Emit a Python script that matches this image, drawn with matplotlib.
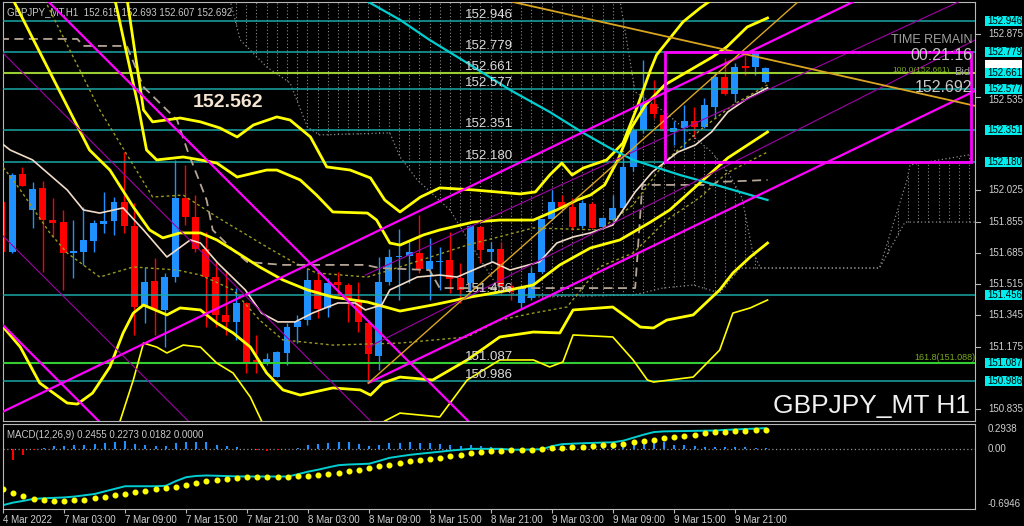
import numpy as np
import matplotlib.pyplot as plt
from matplotlib.patches import Rectangle
from matplotlib.transforms import blended_transform_factory

plt.rcParams['font.family'] = ['Liberation Sans', 'DejaVu Sans']

# ---- GBPJPY H1 candles, bar 0 = 4 Mar 21:00 ... bar 75 = 10 Mar 00:00
opens = [151.963, 151.691, 152.114, 151.918, 152.036, 151.863, 151.851, 151.685, 151.688, 151.751,
         151.842, 151.860, 151.960, 151.831, 151.392, 151.532, 151.374, 151.555, 151.985, 151.878,
         151.706, 151.555, 151.347, 151.310, 151.410, 151.102, 151.092, 151.011, 151.138, 151.283,
         151.319, 151.537, 151.386, 151.528, 151.510, 151.428, 151.305, 151.125, 151.528, 151.660,
         151.669, 151.682, 151.595, 151.633, 151.646, 151.546, 151.519, 151.824, 151.688, 151.704,
         151.504, 151.410, 151.437, 151.582, 151.867, 151.963, 151.936, 151.831, 151.949, 151.827,
         151.863, 151.930, 152.153, 152.353, 152.493, 152.435, 152.341, 152.362, 152.402, 152.371,
         152.480, 152.643, 152.547, 152.703, 152.697, 152.615]
highs = [152.010, 152.119, 152.150, 152.069, 152.077, 151.983, 151.918, 151.863, 151.936, 151.863,
         152.017, 151.990, 152.235, 151.956, 151.609, 151.655, 151.573, 152.190, 152.163, 151.999,
         151.800, 151.637, 151.582, 151.492, 151.419, 151.238, 151.138, 151.150, 151.301, 151.347,
         151.601, 151.582, 151.549, 151.582, 151.519, 151.528, 151.310, 151.660, 151.704, 151.813,
         151.749, 151.891, 151.764, 151.718, 151.800, 151.628, 151.835, 151.831, 151.745, 151.745,
         151.521, 151.510, 151.609, 151.869, 152.027, 151.999, 151.981, 151.972, 151.963, 151.881,
         151.999, 152.199, 152.360, 152.734, 152.625, 152.462, 152.402, 152.489, 152.480, 152.526,
         152.662, 152.743, 152.716, 152.761, 152.779, 152.693]
lows = [151.673, 151.684, 152.048, 151.818, 151.582, 151.772, 151.483, 151.546, 151.619, 151.691,
        151.791, 151.782, 151.791, 151.238, 151.301, 151.238, 151.174, 151.528, 151.836, 151.691,
        151.283, 151.283, 151.238, 151.211, 151.029, 151.029, 151.074, 151.009, 151.074, 151.193,
        151.292, 151.329, 151.337, 151.455, 151.310, 151.256, 150.987, 151.047, 151.510, 151.428,
        151.519, 151.573, 151.428, 151.483, 151.465, 151.410, 151.473, 151.628, 151.637, 151.455,
        151.428, 151.383, 151.428, 151.575, 151.863, 151.934, 151.809, 151.820, 151.818, 151.818,
        151.854, 151.927, 152.130, 152.337, 152.418, 152.337, 152.271, 152.253, 152.317, 152.362,
        152.417, 152.543, 152.507, 152.652, 152.652, 152.607]
closes = [151.691, 152.108, 152.050, 152.032, 151.863, 151.849, 151.682, 151.695, 151.755, 151.849,
          151.860, 151.963, 151.831, 151.388, 151.528, 151.378, 151.555, 151.985, 151.878, 151.706,
          151.552, 151.347, 151.310, 151.410, 151.092, 151.089, 151.107, 151.147, 151.283, 151.314,
          151.537, 151.379, 151.519, 151.510, 151.428, 151.310, 151.134, 151.528, 151.664, 151.669,
          151.691, 151.595, 151.642, 151.642, 151.541, 151.483, 151.831, 151.700, 151.704, 151.504,
          151.472, 151.492, 151.573, 151.867, 151.963, 151.936, 151.824, 151.954, 151.822, 151.873,
          151.927, 152.153, 152.353, 152.493, 152.440, 152.348, 152.362, 152.402, 152.371, 152.489,
          152.643, 152.547, 152.697, 152.692, 152.770, 152.692]

# ---- MACD(12,26,9) panel
macd_main = [-0.650, -0.620, -0.600, -0.577, -0.570, -0.565, -0.560, -0.550, -0.535, -0.520,
             -0.490, -0.460, -0.430, -0.430, -0.430, -0.430, -0.425, -0.370, -0.325, -0.310,
             -0.305, -0.308, -0.312, -0.315, -0.317, -0.317, -0.317, -0.317, -0.317, -0.290,
             -0.260, -0.237, -0.210, -0.185, -0.177, -0.173, -0.168, -0.135, -0.100, -0.082,
             -0.065, -0.052, -0.040, -0.028, -0.015, -0.005, 0.005, 0.005, 0.005, 0.005,
             -0.005, -0.005, -0.002, 0.000, 0.037, 0.060, 0.065, 0.070, 0.074, 0.078,
             0.081, 0.100, 0.135, 0.170, 0.200, 0.208, 0.210, 0.212, 0.214, 0.216,
             0.218, 0.225, 0.230, 0.236, 0.240, 0.2455]
macd_signal = [-0.457, -0.508, -0.543, -0.574, -0.593, -0.605, -0.600, -0.593, -0.585, -0.562,
               -0.550, -0.527, -0.515, -0.500, -0.480, -0.460, -0.449, -0.434, -0.410, -0.395,
               -0.372, -0.356, -0.345, -0.337, -0.325, -0.317, -0.317, -0.317, -0.317, -0.314,
               -0.306, -0.298, -0.287, -0.275, -0.256, -0.240, -0.220, -0.200, -0.178, -0.158,
               -0.140, -0.124, -0.108, -0.097, -0.081, -0.062, -0.047, -0.027, -0.023, -0.019,
               -0.012, -0.007, -0.007, 0.000, 0.012, 0.020, 0.023, 0.031, 0.040, 0.047,
               0.055, 0.066, 0.081, 0.100, 0.113, 0.128, 0.140, 0.151, 0.167, 0.190,
               0.198, 0.206, 0.210, 0.217, 0.226, 0.2273]
macd_hist = [-0.19, -0.13, -0.07, -0.01, 0.02, 0.035, 0.04, 0.045, 0.055, 0.065,
             0.078, 0.09, 0.10, 0.065, 0.055, 0.04, 0.04, 0.078, 0.085, 0.09,
             0.085, 0.055, 0.04, 0.025, 0.005, -0.01, -0.015, -0.01, 0.003, 0.02,
             0.055, 0.065, 0.075, 0.09, 0.09, 0.065, 0.04, 0.055, 0.075, 0.075,
             0.08, 0.075, 0.075, 0.065, 0.055, 0.04, 0.045, 0.04, 0.025, 0.01,
             0.005, 0.002, 0.002, 0.015, 0.03, 0.035, 0.035, 0.035, 0.025, 0.035,
             0.04, 0.05, 0.075, 0.10, 0.10, 0.08, 0.055, 0.05, 0.035, 0.03,
             0.03, 0.025, 0.025, 0.025, 0.02, 0.0182]

# ---- indicator curves: (bar, price)
bb_outer_x = [12.3, 13.9, 14.8, 17.5, 19.5, 21.4, 23.1, 24.7, 27.0, 28.3, 30.3, 31.9, 34.2, 36.2, 37.6,
              39.1, 41.1, 43.0, 46.3, 50.9, 52.4, 53.8, 55.0, 56.0, 57.1, 59.4, 61.0, 62.4, 63.7,
              64.3, 66.9, 68.6, 69.7]
bb_outer_p = [153.060, 152.462, 152.397, 152.418, 152.397, 152.364, 152.315, 152.380, 152.424, 152.407,
              152.315, 152.152, 152.135, 152.092, 151.972, 151.907, 151.988, 152.038, 152.027, 152.005,
              152.016, 152.108, 152.173, 152.108, 152.146, 152.190, 152.282, 152.478, 152.679, 152.761,
              152.941, 153.017, 153.060]
bb_upper_x = [11.1, 13.4, 14.2, 15.2, 17.8, 19.5, 21.1, 23.1, 26.0, 27.0, 29.3, 30.9, 32.5, 35.9, 36.8,
              38.1, 39.1, 41.4, 43.0, 46.3, 48.9, 52.2, 54.5, 56.5, 57.8, 59.2, 60.5, 61.7, 63.2, 65.1,
              67.6, 69.8, 71.2, 73.2, 75.2]
bb_upper_p = [153.060, 152.478, 152.244, 152.190, 152.206, 152.190, 152.173, 152.097, 152.135, 152.135,
              152.081, 151.999, 151.907, 151.901, 151.863, 151.738, 151.727, 151.782, 151.809, 151.852,
              151.863, 151.863, 151.918, 151.972, 151.999, 152.054, 152.190, 152.353, 152.489, 152.598,
              152.679, 152.750, 152.805, 152.913, 152.962]
bb_mid_x = [1.1, 8.6, 10.6, 12.9, 14.5, 15.8, 17.5, 19.5, 21.1, 22.7, 25.3, 27.6, 30.0, 32.5, 35.9,
            39.1, 42.3, 46.0, 48.9, 52.2, 54.8, 57.8, 60.7, 63.7, 65.6, 69.1, 71.3, 75.2]
bb_mid_p = [153.060, 152.244, 152.135, 151.934, 151.809, 151.766, 151.793, 151.793, 151.755, 151.700,
            151.608, 151.537, 151.483, 151.444, 151.417, 151.368, 151.401, 151.444, 151.472, 151.510,
            151.619, 151.711, 151.755, 151.852, 151.918, 152.092, 152.201, 152.342]
bb_lower_x = [-0.2, 1.8, 3.7, 6.4, 7.4, 8.9, 10.6, 11.9, 12.9, 13.9, 16.2, 17.5, 19.5, 21.1, 22.7,
              24.4, 26.0, 27.6, 29.3, 32.5, 35.2, 36.2, 37.4, 39.1, 42.3, 45.7, 48.9, 52.2, 54.8,
              56.1, 60.0, 62.7, 64.0, 65.3, 67.9, 70.5, 71.8, 73.5, 75.2]
bb_lower_p = [151.303, 151.172, 150.977, 150.868, 150.862, 150.922, 151.064, 151.249, 151.357, 151.401,
              151.347, 151.385, 151.374, 151.303, 151.249, 151.172, 151.031, 150.939, 150.911, 150.950,
              150.939, 150.911, 150.977, 151.009, 150.993, 151.102, 151.227, 151.254, 151.249, 151.374,
              151.390, 151.281, 151.276, 151.319, 151.347, 151.483, 151.575, 151.662, 151.738]
bb_low3a_x = [11.6, 12.9, 13.9, 15.2, 16.2, 17.8, 19.5, 21.1, 22.7, 24.4, 25.5]
bb_low3a_p = [150.770, 150.993, 151.194, 151.172, 151.140, 151.183, 151.172, 151.085, 151.031, 150.900, 150.770]
bb_low3b_x = [37.6, 39.1, 43.0, 45.7, 48.9, 52.2, 53.8, 55.1, 56.1, 60.0, 62.0, 63.4, 64.0, 67.9,
              70.5, 71.8, 73.5, 75.2]
bb_low3b_p = [150.770, 150.813, 150.792, 150.993, 151.102, 151.102, 151.064, 151.091, 151.238, 151.227,
              151.102, 150.993, 150.982, 151.009, 151.156, 151.357, 151.385, 151.428]

ma_x = [-0.2, 0.8, 3.0, 6.4, 8.0, 9.6, 11.9, 13.9, 16.2, 18.5, 19.5, 21.2, 23.9, 25.5, 27.1, 28.8,
        30.5, 33.0, 34.7, 35.7, 37.3, 38.1, 40.8, 43.0, 44.7, 47.0, 48.2, 49.9, 52.8, 54.5, 56.1,
        57.8, 60.0, 62.2, 63.9, 66.4, 68.1, 69.7, 71.3, 73.3, 75.2]
ma_p = [152.288, 152.244, 152.190, 152.027, 151.918, 151.901, 151.929, 151.809, 151.662, 151.755,
        151.738, 151.629, 151.483, 151.357, 151.309, 151.309, 151.357, 151.412, 151.412, 151.374,
        151.401, 151.483, 151.553, 151.564, 151.553, 151.608, 151.635, 151.591, 151.635, 151.738,
        151.771, 151.793, 151.836, 152.016, 152.125, 152.233, 152.271, 152.342, 152.451, 152.527, 152.582]

slow_ma_x = [36.0, 39.1, 42.0, 46.0, 49.9, 53.8, 57.1, 59.7, 62.0, 66.6, 70.5, 75.2]
slow_ma_p = [153.049, 152.952, 152.843, 152.707, 152.571, 152.451, 152.337, 152.255, 152.190, 152.108,
             152.048, 151.972]

kijun_x = [-0.2, 7.4, 8.0, 11.6, 12.3, 13.9, 17.2, 18.2, 20.1, 20.7, 22.7, 24.1, 27.6, 35.7, 37.1,
           42.0, 43.0, 62.2, 62.9, 69.7, 70.3, 75.2]
kijun_p = [152.848, 152.848, 152.810, 152.810, 152.805, 152.587, 152.407, 152.244, 151.972, 151.809,
           151.700, 151.635, 151.619, 151.619, 151.602, 151.591, 151.493, 151.493, 152.054, 152.054,
           152.070, 152.081]

env_lo_x = [-0.2, 1.8, 4.7, 6.4, 9.6, 12.9, 17.2, 19.5, 22.7, 25.3, 27.6, 32.5, 39.1, 45.7, 48.9,
            52.2, 55.5, 58.7, 62.0, 65.3, 68.6, 71.2, 75.2]
env_lo_p = [152.173, 152.027, 151.793, 151.684, 151.553, 151.608, 151.591, 151.564, 151.483, 151.319,
            151.211, 151.183, 151.194, 151.227, 151.319, 151.357, 151.390, 151.608, 151.684, 151.863,
            151.988, 152.119, 152.233]
env_hi_x = [4.2, 9.6, 14.8, 17.8, 21.1, 26.0, 28.6, 30.9, 35.9, 39.1, 45.7, 52.2, 58.7, 62.0, 65.3,
            68.6, 71.8, 75.2]
env_hi_p = [153.060, 152.462, 151.988, 151.999, 151.880, 151.717, 151.635, 151.575, 151.553, 151.608,
            151.727, 151.820, 151.809, 151.945, 152.190, 152.353, 152.489, 152.598]

cloud_top_x = [22.4, 60.7, 62.2, 65.1, 69.7, 71.3, 72.7, 73.7, 74.5, 86.2, 88.9, 89.2, 96.1]
cloud_top_p = [153.060, 153.060, 152.560, 152.451, 152.233, 152.125, 151.983, 151.700, 151.602, 151.602,
               152.081, 152.163, 152.228]
cloud_bot_x = [22.4, 23.4, 26.0, 28.3, 30.0, 31.2, 38.1, 39.1, 40.8, 44.0, 47.0, 48.9, 51.6, 62.0,
               64.9, 67.9, 70.5, 72.5, 86.2, 88.7, 96.1]
cloud_bot_p = [153.060, 152.843, 152.696, 152.609, 152.369, 152.326, 152.337, 152.206, 152.081, 151.918,
               151.646, 151.483, 151.444, 151.455, 151.493, 151.510, 151.466, 151.602, 151.602, 151.852, 151.852]

# ---- drawn objects
levels = [152.946, 152.779, 152.661, 152.577, 152.351, 152.180, 151.456, 151.087, 150.986]
level_colors = ['#1aa7a7', '#1aa7a7', '#9acd32', '#1aa7a7', '#1aa7a7', '#1aa7a7', '#1aa7a7', '#32cd32', '#1aa7a7']
trend_lines = [  # (bar1, price1, bar2, price2, colour, width, ray)
    (4.4, 153.060, 45.8, 150.770, '#ff00ff', 1.6, False),
    (-0.2, 151.308, 9.5, 150.770, '#ff00ff', 1.6, False),
    (-0.2, 150.813, 84.0, 153.060, '#ff00ff', 1.6, False),
    (36.0, 150.977, 96.4, 152.587, '#ff00ff', 1.6, True),
    (-0.2, 152.788, 36.2, 150.770, '#a000a8', 0.8, False),
    (-0.2, 151.793, 18.3, 150.770, '#a000a8', 0.8, False),
    (35.7, 151.564, 75.2, 152.571, '#a000a8', 0.8, True),
    (36.0, 151.172, 95.6, 152.843, '#a000a8', 0.8, True),
    (50.6, 153.044, 95.6, 152.484, '#daa520', 1.3, False),
    (36.0, 150.977, 78.4, 153.060, '#daa520', 1.0, True),
]
current_price = 152.692
axis_prices = [152.875, 152.535, 152.025, 151.855, 151.685, 151.515, 151.345, 151.175, 150.835]
time_ticks = [0, 6, 12, 18, 24, 30, 36, 42, 48, 54, 60, 66, 72]
time_labels = ['4 Mar 2022', '7 Mar 03:00', '7 Mar 09:00', '7 Mar 15:00', '7 Mar 21:00', '8 Mar 03:00',
               '8 Mar 09:00', '8 Mar 15:00', '8 Mar 21:00', '9 Mar 03:00', '9 Mar 09:00', '9 Mar 15:00',
               '9 Mar 21:00']

fig = plt.figure(figsize=(10.24, 5.26), dpi=100, facecolor='black')
ax = fig.add_axes([3 / 1024, 105 / 526, 972 / 1024, 419 / 526], facecolor='black')
ax2 = fig.add_axes([3 / 1024, 17 / 526, 972 / 1024, 85 / 526], facecolor='black')
x0, x1 = 0.1, 95.58
ax.set_xlim(x0, x1)
ax.set_ylim(150.770, 153.049)
ax2.set_xlim(x0, x1)
ax2.set_ylim(-0.6946, 0.2938)
for a in (ax, ax2):
    for s in a.spines.values():
        s.set_color('#b8b8b8')
        s.set_linewidth(0.8)
ax.set_xticks([])
ax.set_yticks([])
ax2.set_yticks([])

bars = np.arange(len(opens))
o = np.array(opens); c = np.array(closes)
up = c >= o
col = np.where(up, '#1e90ff', '#ff0000')

# ichimoku cloud (dotted verticals)
cb = np.arange(23, 96)
ctop = np.interp(cb, cloud_top_x, cloud_top_p)
cbot = np.interp(cb, cloud_bot_x, cloud_bot_p)
ax.vlines(cb, cbot, ctop, colors='#8a8a8a', linestyles=(0, (1, 2)), lw=0.8, zorder=1)
ax.plot(cloud_top_x, cloud_top_p, color='#8a8a8a', ls=(0, (1, 2)), lw=0.9, zorder=1)
ax.plot(cloud_bot_x, cloud_bot_p, color='#8a8a8a', ls=(0, (1, 2)), lw=0.9, zorder=1)

# candles
ax.vlines(bars, lows, highs, colors=col, lw=1, zorder=2)
body = np.maximum(np.abs(c - o), 0.006)
ax.bar(bars, body, bottom=np.minimum(o, c), width=0.68, color=col, zorder=2)

# levels
for p, lc in zip(levels, level_colors):
    ax.axhline(p, color=lc, lw=1.5 if lc != '#1aa7a7' else 1.1, zorder=3)
    ax.annotate(f'{p:.3f}', (45.5, p), xytext=(0, 0), textcoords='offset points',
                color='#dcdcdc', fontsize=9.5, va='bottom', ha='left', zorder=6)

# indicator lines
ax.plot(bb_outer_x, bb_outer_p, color='#ffff00', lw=2.0, zorder=4)
ax.plot(bb_upper_x, bb_upper_p, color='#ffff00', lw=2.0, zorder=4)
ax.plot(bb_mid_x, bb_mid_p, color='#ffff00', lw=2.0, zorder=4)
ax.plot(bb_lower_x, bb_lower_p, color='#ffff00', lw=2.0, zorder=4)
ax.plot(bb_low3a_x, bb_low3a_p, color='#ffff00', lw=1.2, zorder=4)
ax.plot(bb_low3b_x, bb_low3b_p, color='#ffff00', lw=1.2, zorder=4)
ax.plot(env_lo_x, env_lo_p, color='#9a9a22', ls=(0, (2, 2)), lw=1, zorder=3)
ax.plot(env_hi_x, env_hi_p, color='#9a9a22', ls=(0, (2, 2)), lw=1, zorder=3)
ax.plot(kijun_x, kijun_p, color='#b4a494', ls=(0, (5, 3)), lw=1.3, zorder=3)
ax.plot(ma_x, ma_p, color='#f0dcc8', lw=1.2, zorder=4)
ax.plot(slow_ma_x, slow_ma_p, color='#00ced1', lw=1.6, zorder=4)

for b1, p1, b2, p2, lc, lw, ray in trend_lines:
    if ray:
        slope = (p2 - p1) / (b2 - b1)
        ax.plot([b1, x1 + 1], [p1, p1 + slope * (x1 + 1 - b1)], color=lc, lw=lw, zorder=5)
    else:
        ax.axline((b1, p1), (b2, p2), color=lc, lw=lw, zorder=5)

ax.add_patch(Rectangle((65.1, 152.180), 30.1, 152.779 - 152.180, fill=False,
                       ec='#ff00ff', lw=2, zorder=5))

# texts on the chart
ax.text(0.004, 0.988, 'GBPJPY_MT,H1  152.615 152.693 152.607 152.692', transform=ax.transAxes,
        color='#c8c8c8', fontsize=7, va='top', ha='left')
ax.text(22.2, 152.505, '152.562', color='#f5e6d3', fontsize=14, fontweight='bold',
        ha='center', va='center', zorder=6)
ax.text(95.3, 152.843, 'TIME REMAIN', color='#a0a0a0', fontsize=9, ha='right', va='center', zorder=6)
ax.text(95.3, 152.756, '00:21:16', color='#c8c8c8', fontsize=11.5, ha='right', va='center', zorder=6)
ax.text(95.1, 152.669, 'Bid', color='#a0a0a0', fontsize=8, ha='right', va='center', zorder=6)
ax.text(93.1, 152.674, '100.0(152.661)', color='#7ba91f', fontsize=6, ha='right', va='center', zorder=6)
ax.text(95.3, 152.582, '152.692', color='#c8c8c8', fontsize=11.5, ha='right', va='center', zorder=6)
ax.text(95.6, 151.113, '161.8(151.088)', color='#7ba91f', fontsize=6.5, ha='right', va='center', zorder=6)
ax.text(95.1, 150.851, 'GBPJPY_MT H1', color='#f0f0f0', fontsize=19, ha='right', va='center', zorder=6)

# right price scale
trans = blended_transform_factory(ax.transAxes, ax.transData)
for p in axis_prices:
    dy = -2.5 if p == 152.535 else 0
    ax.annotate(f'{p:.3f}', (1.0134, p), xycoords=trans, xytext=(0, dy), textcoords='offset points',
                color='#d0d0d0', fontsize=7, va='center', ha='left', annotation_clip=False)
    ax.plot([1.0, 1.005], [p, p], transform=trans, color='#b8b8b8', lw=0.8, clip_on=False)
box_w, box_h = 37 / 972, 10 / 183.8
ax.add_patch(Rectangle((1.0103, current_price + 0.012 - box_h / 2), box_w, box_h, transform=trans,
                       fc='white', ec='none', clip_on=False, zorder=8))
for p in levels:
    ax.add_patch(Rectangle((1.0103, p - box_h / 2), box_w, box_h, transform=trans,
                           fc='#00eeee', ec='none', clip_on=False, zorder=9))
    ax.text(1.0123, p, f'{p:.3f}', transform=trans, color='black', fontsize=7, va='center',
            ha='left', zorder=10)

# MACD panel
ax2.axhline(0, color='#909090', ls=(0, (1, 2)), lw=0.9)
hcol = ['#1e90ff' if h >= 0 else '#ff0000' for h in macd_hist]
ax2.vlines(bars, 0, macd_hist, colors=hcol, lw=1.5)
ax2.plot(bars, macd_main, color='#00ced1', lw=1.4)
ax2.scatter(bars, macd_signal, s=11, color='#ffff00', zorder=4)
ax2.text(0.004, 0.93, 'MACD(12,26,9) 0.2455 0.2273 0.0182 0.0000', transform=ax2.transAxes,
         color='#c8c8c8', fontsize=7, va='top', ha='left')
t2 = blended_transform_factory(ax2.transAxes, ax2.transData)
ax2.text(1.013, 0.2938, '0.2938', transform=t2, color='#d0d0d0', fontsize=7, va='top', ha='left')
ax2.text(1.013, 0.0, '0.00', transform=t2, color='#d0d0d0', fontsize=7, va='center', ha='left')
ax2.text(1.013, -0.6946, '-0.6946', transform=t2, color='#d0d0d0', fontsize=7, va='bottom', ha='left')

ax2.set_xticks(time_ticks)
ax2.set_xticklabels(time_labels, ha='left')
ax2.tick_params(axis='x', colors='#b8b8b8', labelcolor='#d0d0d0', labelsize=7, length=3, pad=1)

fig.savefig('out.png', dpi=100, facecolor='black')
